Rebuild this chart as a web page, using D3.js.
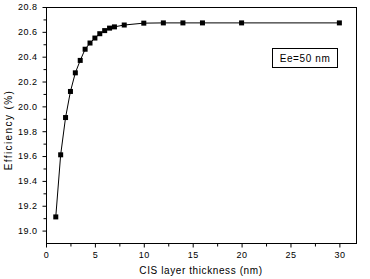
<!DOCTYPE html>
<html>
<head>
<meta charset="utf-8">
<script src="https://cdnjs.cloudflare.com/ajax/libs/d3/7.8.5/d3.min.js"></script>
<style>
  body { margin: 0; background: #fff; }
  svg { display: block; }
  text { font-family: "Liberation Sans", Arial, sans-serif; fill: #000; }
</style>
</head>
<body>
<div id="chart"></div>
<script>
// data
var thickness = [1, 1.5, 2, 2.5, 3, 3.5, 4, 4.5, 5, 5.5, 6, 6.5, 7, 8, 10, 12, 14, 16, 20, 30];
var efficiency = [19.11, 19.61, 19.91, 20.12, 20.27, 20.37, 20.46, 20.51, 20.55, 20.585, 20.61, 20.63, 20.64, 20.655, 20.67, 20.672, 20.672, 20.672, 20.672, 20.672];
var xTicks = [0, 5, 10, 15, 20, 25, 30];
var yTicks = [19.0, 19.2, 19.4, 19.6, 19.8, 20.0, 20.2, 20.4, 20.6, 20.8];
var legendText = "Ee=50 nm";

var svgWidth = 370, svgHeight = 279;
var plotLeft = 46, plotRight = 356, plotTop = 7, plotBottom = 243;

var data = thickness.map(function (d, i) { return { X: d, Y: efficiency[i] }; });

var svg = d3.select("#chart").append("svg")
    .attr("width", svgWidth)
    .attr("height", svgHeight);

var x = d3.scaleLinear().domain([0, 31.7]).range([plotLeft, plotRight]);
var y = d3.scaleLinear().domain([18.9, 20.8]).range([plotBottom, plotTop]);

// frame
svg.append("rect")
    .attr("x", plotLeft + 0.5).attr("y", plotTop + 0.5)
    .attr("width", plotRight - plotLeft).attr("height", plotBottom - plotTop)
    .attr("fill", "none").attr("stroke", "#000").attr("stroke-width", 1);

// x axis (major + minor ticks)
var xAxis = d3.axisBottom(x).tickValues(xTicks).tickSize(4).tickPadding(4)
    .tickFormat(d3.format("d"));
var gx = svg.append("g")
    .attr("transform", "translate(0," + (plotBottom + 0.5) + ")")
    .call(xAxis);
gx.select(".domain").remove();
gx.selectAll("text").style("font-size", "9px").style("letter-spacing", "0.5px");

var gxMinor = svg.append("g")
    .attr("transform", "translate(0," + (plotBottom + 0.5) + ")")
    .call(d3.axisBottom(x).tickValues(d3.range(2.5, 31, 5)).tickSize(3).tickFormat(""));
gxMinor.select(".domain").remove();

// y axis (major + minor ticks)
var yAxis = d3.axisLeft(y).tickValues(yTicks).tickSize(4).tickPadding(5)
    .tickFormat(d3.format(".1f"));
var gy = svg.append("g")
    .attr("transform", "translate(" + (plotLeft + 0.5) + ",0)")
    .call(yAxis);
gy.select(".domain").remove();
gy.selectAll("text").style("font-size", "9px").style("letter-spacing", "0.5px");

var gyMinor = svg.append("g")
    .attr("transform", "translate(" + (plotLeft + 0.5) + ",0)")
    .call(d3.axisLeft(y).tickValues(d3.range(19.1, 20.8, 0.2)).tickSize(3).tickFormat(""));
gyMinor.select(".domain").remove();

// line
var line = d3.line()
    .x(function (d) { return x(d.X); })
    .y(function (d) { return y(d.Y); });

svg.append("path")
    .datum(data)
    .attr("d", line)
    .attr("fill", "none")
    .attr("stroke", "#000")
    .attr("stroke-width", 1);

// markers
svg.selectAll(".pt")
    .data(data)
    .enter().append("rect")
    .attr("class", "pt")
    .attr("x", function (d) { return x(d.X) - 2.5; })
    .attr("y", function (d) { return y(d.Y) - 2.5; })
    .attr("width", 5)
    .attr("height", 5)
    .attr("fill", "#000");

// legend box
svg.append("rect")
    .attr("x", 272.5).attr("y", 48.5)
    .attr("width", 65).attr("height", 19)
    .attr("fill", "#fff").attr("stroke", "#000");
svg.append("text")
    .attr("x", 305).attr("y", 61.5)
    .attr("text-anchor", "middle")
    .style("font-size", "10px")
    .style("letter-spacing", "0.6px")
    .text(legendText);

// axis titles
svg.append("text")
    .attr("x", 201).attr("y", 274)
    .attr("text-anchor", "middle")
    .style("font-size", "10px")
    .style("letter-spacing", "0.6px")
    .text("CIS layer thickness (nm)");

svg.append("text")
    .attr("transform", "translate(12,130) rotate(-90)")
    .attr("text-anchor", "middle")
    .style("font-size", "10px")
    .style("letter-spacing", "1.4px")
    .text("Efficiency (%)");
</script>
</body>
</html>
